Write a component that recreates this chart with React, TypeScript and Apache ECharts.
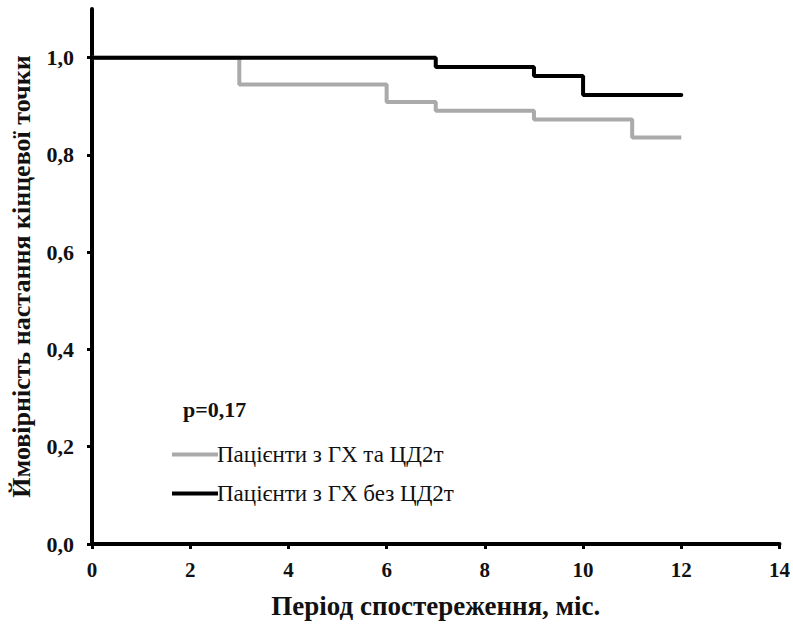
import React, { useEffect, useRef } from "react";
import * as echarts from "echarts";

const grayName = "Пацієнти з ГХ та ЦД2т";
const blackName = "Пацієнти з ГХ без ЦД2т";
const grayTimes = [0, 3, 6, 7, 9, 11, 12];
const grayValues = [1.0, 0.945, 0.909, 0.891, 0.873, 0.836, 0.836];
const blackTimes = [0, 7, 9, 10, 12];
const blackValues = [1.0, 0.981, 0.962, 0.923, 0.923];
const yTicks = [0, 0.2, 0.4, 0.6, 0.8, 1.0];
const pText = "p=0,17";
const xTitle = "Період спостереження, міс.";
const yTitle = "Ймовірність настання кінцевої точки";

const FONT = "Times New Roman, Liberation Serif, serif";

export default function App() {
  const ref = useRef<HTMLDivElement>(null);
  useEffect(() => {
    if (!ref.current) return;
    const chart = echarts.init(ref.current, undefined, { renderer: "svg" });
    chart.setOption({
      animation: false,
      backgroundColor: "#ffffff",
      textStyle: { fontFamily: FONT },
      grid: { left: 92, right: 11, top: 9, bottom: 79, containLabel: false },
      legend: {
        orient: "vertical",
        left: 167,
        top: 438,
        itemWidth: 46,
        itemHeight: 4,
        itemGap: 16,
        icon: "rect",
        textStyle: { fontFamily: FONT, fontSize: 23, color: "#111", padding: [0, 0, 0, -6] },
        data: [grayName, blackName],
      },
      graphic: [
        {
          type: "text",
          left: 183,
          top: 398,
          style: { text: pText, fontFamily: FONT, fontSize: 22, fontWeight: "bold", fill: "#111" },
        },
      ],
      xAxis: {
        type: "value",
        min: 0,
        max: 14,
        interval: 2,
        name: xTitle,
        nameLocation: "middle",
        nameGap: 48,
        nameTextStyle: { fontFamily: FONT, fontSize: 27, fontWeight: "bold", color: "#111" },
        axisLine: { lineStyle: { color: "#000", width: 4 } },
        axisTick: { show: true, length: 5, lineStyle: { color: "#000", width: 3 } },
        axisLabel: { fontFamily: FONT, fontSize: 21, fontWeight: "bold", color: "#111", margin: 15 },
        splitLine: { show: false },
      },
      yAxis: {
        type: "value",
        min: 0,
        max: 1.1,
        name: yTitle,
        nameLocation: "middle",
        nameRotate: 90,
        nameGap: 58,
        nameTextStyle: { fontFamily: FONT, fontSize: 26, fontWeight: "bold", color: "#111" },
        axisLine: { lineStyle: { color: "#000", width: 4 } },
        axisTick: { show: true, length: 5, customValues: yTicks, lineStyle: { color: "#000", width: 3 } },
        axisLabel: {
          fontFamily: FONT,
          fontSize: 22,
          fontWeight: "bold",
          color: "#111",
          margin: 18,
          customValues: yTicks,
          formatter: (v: number) => v.toFixed(1).replace(".", ","),
        },
        splitLine: { show: false },
      },
      series: [
        {
          name: grayName,
          type: "line",
          step: "end",
          showSymbol: false,
          symbol: "none",
          color: "#aaaaaa",
          lineStyle: { color: "#aaaaaa", width: 4 },
          data: grayTimes.map((t, i) => [t, grayValues[i]]),
        },
        {
          name: blackName,
          type: "line",
          step: "end",
          showSymbol: false,
          symbol: "none",
          color: "#000000",
          lineStyle: { color: "#000000", width: 4, cap: "round" },
          data: blackTimes.map((t, i) => [t, blackValues[i]]),
        },
      ],
    });
    return () => chart.dispose();
  }, []);
  return <div ref={ref} style={{ width: 793, height: 624, position: "absolute", left: 0, top: 0 }} />;
}
